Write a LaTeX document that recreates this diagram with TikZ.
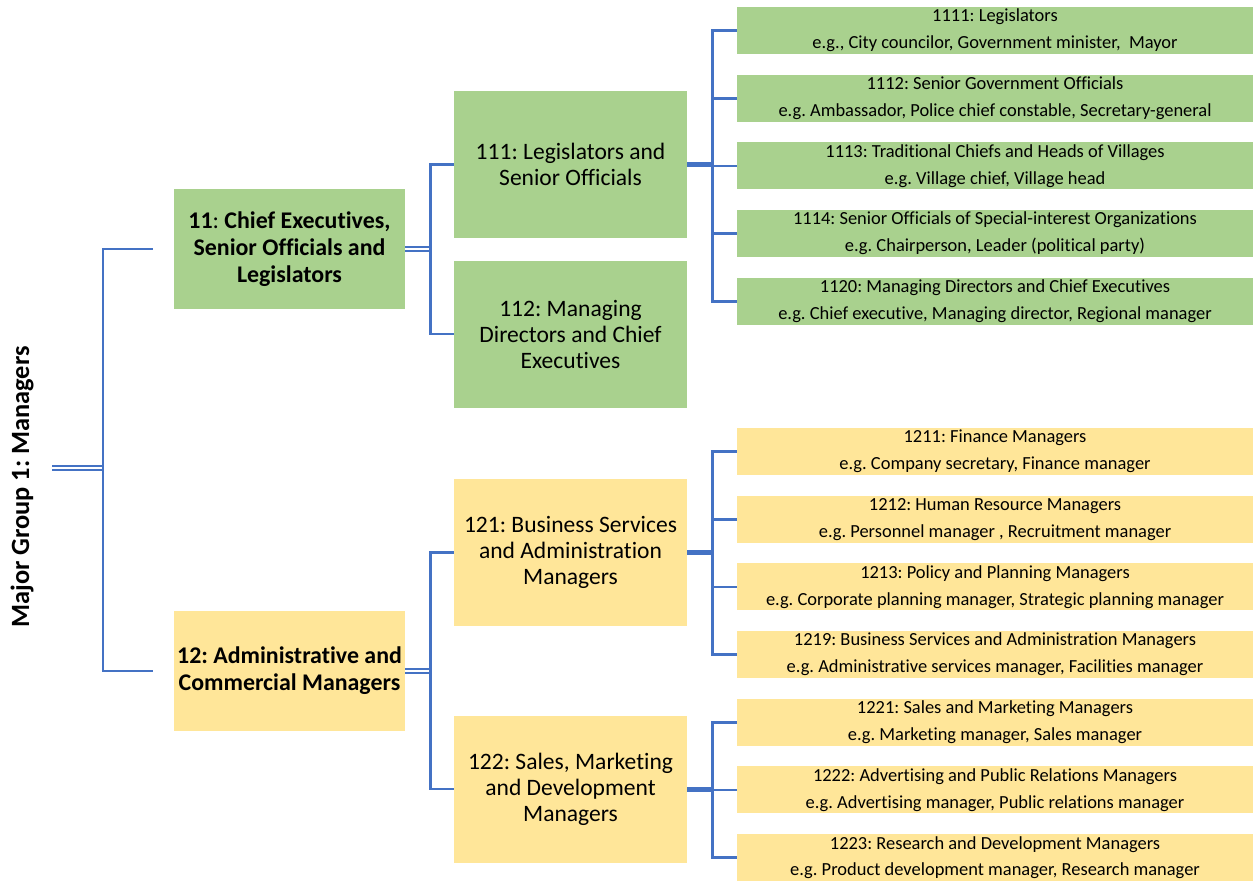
\documentclass[tikz,border=0pt]{standalone}
\usepackage{fontspec}
\setmainfont{Carlito}[Ligatures=NoCommon]
\usepackage{tikz}
\usetikzlibrary{positioning, calc}
\definecolor{groupGreen}{HTML}{A9D18E}
\definecolor{groupYellow}{HTML}{FFE699}
\definecolor{linkBlue}{HTML}{4472C4}
\frenchspacing

\begin{document}
\begin{tikzpicture}[
      x=0.02cm, y=-0.02cm,
      major/.style={rectangle, minimum width=4.62cm, minimum height=2.4cm,
                    inner sep=0pt, align=center,
                    font=\fontsize{13.6}{15.3}\selectfont\bfseries},
      minor/.style={rectangle, minimum width=4.66cm, minimum height=2.94cm,
                    inner sep=0pt, align=center,
                    font=\fontsize{13.4}{14.8}\selectfont},
      unit/.style={rectangle, minimum width=10.32cm, minimum height=0.94cm,
                   inner sep=0pt, align=center,
                   font=\fontsize{10.5}{15.3}\selectfont},
      link/.style={draw=linkBlue, line width=1.5pt},
      dlink/.style={draw=linkBlue, double=white, double distance=1.4pt, line width=1.1pt},
      trunk/.style={draw=linkBlue, line width=2.8pt}
    ]
      \useasboundingbox (0,0) rectangle (1253,882);

      % root
      \node[rotate=90, font=\fontsize{15}{17}\selectfont\bfseries] (mg) at (22,487)
        {Major Group 1: Managers};

      % sub-major groups
      \node[major, fill=groupGreen]  (box11) at (289.5,249)
        {11{\mdseries:} Chief Executives,\\Senior Officials and\\Legislators};
      \node[major, fill=groupYellow] (box12) at (289.5,671)
        {12: Administrative and\\Commercial Managers};

      % minor groups
      \node[minor, fill=groupGreen]  (box111) at (570.5,164.5)
        {111: Legislators and\\Senior Officials};
      \node[minor, fill=groupGreen, below=0.44cm of box111] (box112)
        {112: Managing\\Directors and Chief\\Executives};
      \node[minor, fill=groupYellow] (box121) at (570.5,552.5)
        {121: Business Services\\and Administration\\Managers};
      \node[minor, fill=groupYellow, below=1.78cm of box121] (box122)
        {122: Sales, Marketing\\and Development\\Managers};

      % unit groups
      \node[unit, fill=groupGreen] (u1111) at (995,30.5)
        {1111: Legislators\\e.g., City councilor, Government minister,~~Mayor};
      \node[unit, fill=groupGreen, below=0.4cm of u1111] (u1112)
        {1112: Senior Government Officials\\e.g. Ambassador, Police chief constable, Secretary-general};
      \node[unit, fill=groupGreen, below=0.4cm of u1112] (u1113)
        {1113: Traditional Chiefs and Heads of Villages\\e.g. Village chief, Village head};
      \node[unit, fill=groupGreen, below=0.4cm of u1113] (u1114)
        {1114: Senior Officials of Special-interest Organizations\\e.g. Chairperson, Leader (political party)};
      \node[unit, fill=groupGreen, below=0.4cm of u1114] (u1120)
        {1120: Managing Directors and Chief Executives\\e.g. Chief executive, Managing director, Regional manager};

      \node[unit, fill=groupYellow] (u1211) at (995,451.5)
        {1211: Finance Managers\\e.g. Company secretary, Finance manager};
      \node[unit, fill=groupYellow, below=0.4cm of u1211] (u1212)
        {1212: Human Resource Managers\\e.g. Personnel manager , Recruitment manager};
      \node[unit, fill=groupYellow, below=0.4cm of u1212] (u1213)
        {1213: Policy and Planning Managers\\e.g. Corporate planning manager, Strategic planning manager};
      \node[unit, fill=groupYellow, below=0.4cm of u1213] (u1219)
        {1219: Business Services and Administration Managers\\e.g. Administrative services manager, Facilities manager};
      \node[unit, fill=groupYellow, below=0.4cm of u1219] (u1221)
        {1221: Sales and Marketing Managers\\e.g. Marketing manager, Sales manager};
      \node[unit, fill=groupYellow, below=0.4cm of u1221] (u1222)
        {1222: Advertising and Public Relations Managers\\e.g. Advertising manager, Public relations manager};
      \node[unit, fill=groupYellow, below=0.4cm of u1222] (u1223)
        {1223: Research and Development Managers\\e.g. Product development manager, Research manager};

      % root connectors
      \coordinate (root) at (52,468);
      \coordinate (j1) at (103,468);
      \coordinate (t11) at ($(box11.west)+(-21,0)$);
      \coordinate (t12) at ($(box12.west)+(-21,0)$);
      \draw[dlink] (root) -- (j1);
      \draw[link] (t11) -| (j1) |- (t12);

      % sub-major connectors
      \coordinate (j11) at ($(box11.east)+(25,0)$);
      \coordinate (j12) at ($(box12.east)+(25,0)$);
      \draw[dlink] (box11.east) -- (j11);
      \draw[dlink] (box12.east) -- (j12);
      \draw[link] (box111.west) -| (j11) |- (box112.west);
      \draw[link] (box121.west) -| (j12) |- (box122.west);

      % minor connectors
      \coordinate (j111) at ($(box111.east)+(25,0)$);
      \coordinate (j121) at ($(box121.east)+(25,0)$);
      \coordinate (j122) at ($(box122.east)+(25,0)$);
      \draw[trunk] (box111.east) -- (j111);
      \draw[trunk] (box121.east) -- (j121);
      \draw[trunk] (box122.east) -- (j122);
      \foreach \u in {u1111,u1112,u1113,u1114,u1120}
        \draw[link] (j111) |- (\u.west);
      \foreach \u in {u1211,u1212,u1213,u1219}
        \draw[link] (j121) |- (\u.west);
      \foreach \u in {u1221,u1222,u1223}
        \draw[link] (j122) |- (\u.west);
    \end{tikzpicture}
\end{document}
